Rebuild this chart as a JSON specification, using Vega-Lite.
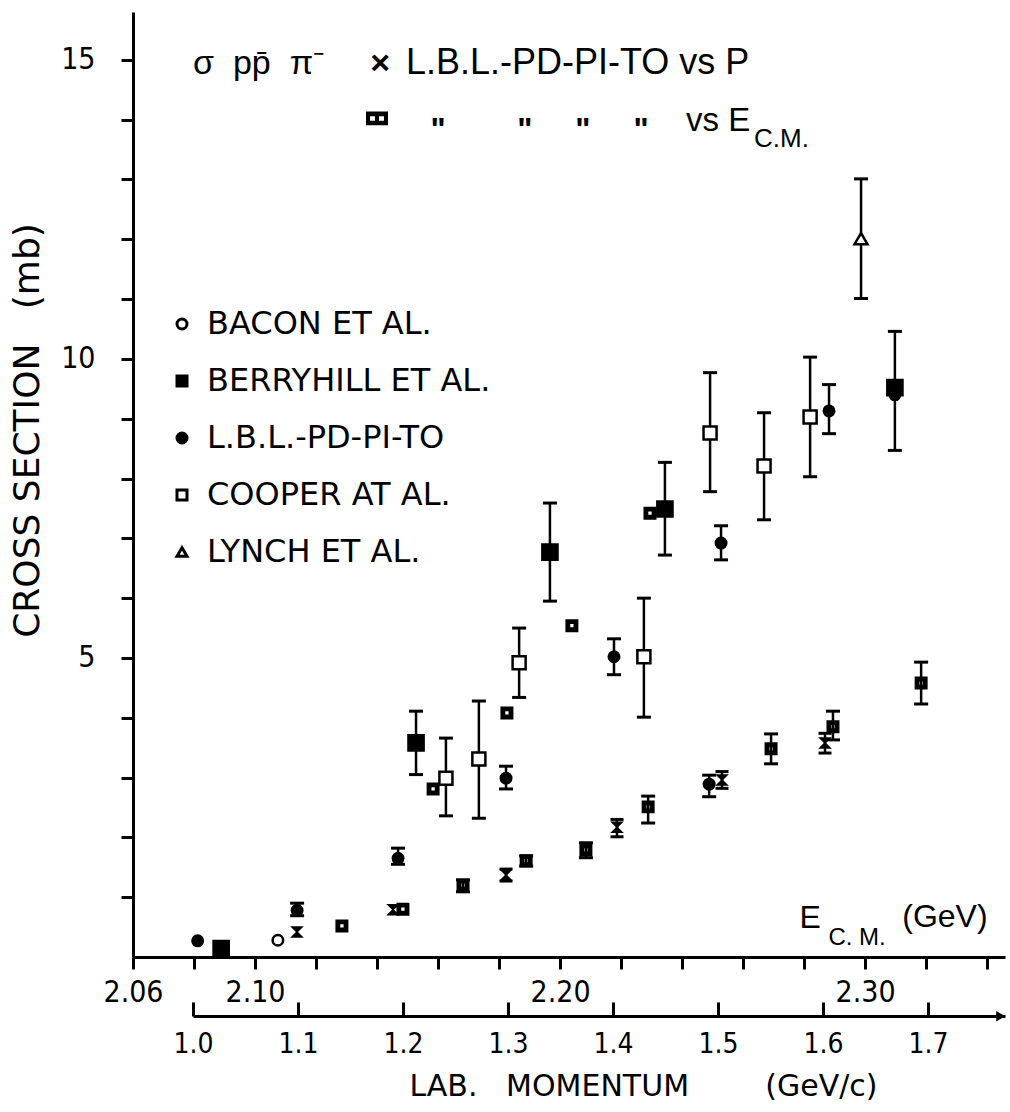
{
  "$schema": "https://vega.github.io/schema/vega-lite/v6.json",
  "width": 872,
  "height": 945,
  "autosize": {"type": "none"},
  "padding": {"left": 133, "top": 12, "right": 5, "bottom": 155},
  "background": "white",
  "config": {
    "view": {"stroke": null},
    "axis": {"grid": false, "domainColor": "black", "tickColor": "black", "labelColor": "black", "titleColor": "black", "domainWidth": 3, "tickWidth": 3},
    "text": {"color": "black"},
    "legend": {"orient": "none", "legendX": 33, "legendY": 296, "title": null, "padding": 0,
      "labelFont": "DejaVu Sans", "labelFontSize": 32, "labelColor": "black", "labelOffset": 9, "labelLimit": 600,
      "symbolSize": 100, "symbolStrokeWidth": 3, "rowPadding": 25}
  },
  "datasets": {
    "pts": [
      {"series": "BACON ET AL.", "E": 2.1075, "s": 0.28},
      {"series": "BERRYHILL ET AL.", "E": 2.0889, "s": 0.14},
      {"series": "BERRYHILL ET AL.", "E": 2.1528, "s": 3.58, "lo": 3.05, "hi": 4.11},
      {"series": "BERRYHILL ET AL.", "E": 2.1967, "s": 6.77, "lo": 5.95, "hi": 7.59},
      {"series": "BERRYHILL ET AL.", "E": 2.2344, "s": 7.49, "lo": 6.72, "hi": 8.27},
      {"series": "BERRYHILL ET AL.", "E": 2.3098, "s": 9.52, "lo": 8.47, "hi": 10.46},
      {"series": "L.B.L.-PD-PI-TO", "E": 2.0812, "s": 0.27},
      {"series": "L.B.L.-PD-PI-TO", "E": 2.1138, "s": 0.78, "lo": 0.69, "hi": 0.9},
      {"series": "L.B.L.-PD-PI-TO", "E": 2.1469, "s": 1.65, "lo": 1.55, "hi": 1.82},
      {"series": "L.B.L.-PD-PI-TO", "E": 2.1823, "s": 2.99, "lo": 2.81, "hi": 3.19},
      {"series": "L.B.L.-PD-PI-TO", "E": 2.2177, "s": 5.02, "lo": 4.72, "hi": 5.32},
      {"series": "L.B.L.-PD-PI-TO", "E": 2.2489, "s": 2.89, "lo": 2.68, "hi": 3.04},
      {"series": "L.B.L.-PD-PI-TO", "E": 2.2528, "s": 6.92, "lo": 6.64, "hi": 7.21},
      {"series": "L.B.L.-PD-PI-TO", "E": 2.2882, "s": 9.13, "lo": 8.75, "hi": 9.57},
      {"series": "L.B.L.-PD-PI-TO", "E": 2.3098, "s": 9.4},
      {"series": "COOPER AT AL.", "E": 2.1626, "s": 2.99, "lo": 2.36, "hi": 3.66},
      {"series": "COOPER AT AL.", "E": 2.1734, "s": 3.31, "lo": 2.32, "hi": 4.28},
      {"series": "COOPER AT AL.", "E": 2.1866, "s": 4.92, "lo": 4.34, "hi": 5.5},
      {"series": "COOPER AT AL.", "E": 2.2275, "s": 5.02, "lo": 4.01, "hi": 6.0},
      {"series": "COOPER AT AL.", "E": 2.2492, "s": 8.76, "lo": 7.78, "hi": 9.77},
      {"series": "COOPER AT AL.", "E": 2.2669, "s": 8.21, "lo": 7.31, "hi": 9.1},
      {"series": "COOPER AT AL.", "E": 2.282, "s": 9.03, "lo": 8.03, "hi": 10.03},
      {"series": "LYNCH ET AL.", "E": 2.2987, "s": 12.01, "lo": 11.01, "hi": 13.01},
      {"series": "L.B.L.-PD-PI-TO vs E C.M.", "E": 2.1285, "s": 0.52},
      {"series": "L.B.L.-PD-PI-TO vs E C.M.", "E": 2.1485, "s": 0.8},
      {"series": "L.B.L.-PD-PI-TO vs E C.M.", "E": 2.1584, "s": 2.81},
      {"series": "L.B.L.-PD-PI-TO vs E C.M.", "E": 2.1682, "s": 1.2, "lo": 1.09, "hi": 1.29},
      {"series": "L.B.L.-PD-PI-TO vs E C.M.", "E": 2.1826, "s": 4.08},
      {"series": "L.B.L.-PD-PI-TO vs E C.M.", "E": 2.1889, "s": 1.61, "lo": 1.52, "hi": 1.69},
      {"series": "L.B.L.-PD-PI-TO vs E C.M.", "E": 2.2039, "s": 5.54},
      {"series": "L.B.L.-PD-PI-TO vs E C.M.", "E": 2.2085, "s": 1.79, "lo": 1.66, "hi": 1.91},
      {"series": "L.B.L.-PD-PI-TO vs E C.M.", "E": 2.2289, "s": 2.51, "lo": 2.24, "hi": 2.69},
      {"series": "L.B.L.-PD-PI-TO vs E C.M.", "E": 2.2295, "s": 7.42},
      {"series": "L.B.L.-PD-PI-TO vs E C.M.", "E": 2.2692, "s": 3.48, "lo": 3.23, "hi": 3.73},
      {"series": "L.B.L.-PD-PI-TO vs E C.M.", "E": 2.2895, "s": 3.85, "lo": 3.63, "hi": 4.11},
      {"series": "L.B.L.-PD-PI-TO vs E C.M.", "E": 2.3184, "s": 4.58, "lo": 4.23, "hi": 4.93}
    ],
    "vsp": [
      {"series": "L.B.L.-PD-PI-TO vs P", "p": 1.099, "s": 0.42},
      {"series": "L.B.L.-PD-PI-TO vs P", "p": 1.1905, "s": 0.79},
      {"series": "L.B.L.-PD-PI-TO vs P", "p": 1.2981, "s": 1.37, "lo": 1.27, "hi": 1.47},
      {"series": "L.B.L.-PD-PI-TO vs P", "p": 1.4038, "s": 2.17, "lo": 2.01, "hi": 2.3},
      {"series": "L.B.L.-PD-PI-TO vs P", "p": 1.5038, "s": 2.96, "lo": 2.82, "hi": 3.1},
      {"series": "L.B.L.-PD-PI-TO vs P", "p": 1.6019, "s": 3.58, "lo": 3.41, "hi": 3.74}
    ]
  },
  "layer": [
    {
      "layer": [
        {
          "data": {"name": "pts"},
          "transform": [{"filter": "isValid(datum.lo)"}],
          "mark": {"type": "rule", "color": "black", "strokeWidth": 2.5},
          "encoding": {
            "x": {"field": "E", "type": "quantitative",
              "scale": {"domain": [2.06, 2.3459], "nice": false, "zero": false},
              "axis": {"values": [2.06, 2.08, 2.1, 2.12, 2.14, 2.16, 2.18, 2.2, 2.22, 2.24, 2.26, 2.28, 2.3, 2.32, 2.34],
                "labelExpr": "(datum.value == 2.06 || datum.value == 2.1 || datum.value == 2.2 || datum.value == 2.3) ? format(datum.value, '.2f') : ''",
                "tickSize": 12, "labelPadding": 8, "labelFlush": false,
                "labelFont": "Liberation Sans Narrow, DejaVu Sans Condensed, Liberation Sans", "labelFontSize": 30,
                "title": null}},
            "y": {"field": "lo", "type": "quantitative", "title": "CROSS\u00a0SECTION\u00a0\u00a0\u00a0(mb)",
              "scale": {"domain": [0, 15.8], "nice": false, "zero": false},
              "axis": {"values": [1, 2, 3, 4, 5, 6, 7, 8, 9, 10, 11, 12, 13, 14, 15],
                "labelExpr": "datum.value % 5 == 0 ? datum.value : ''",
                "tickSize": 12, "labelPadding": 26,
                "labelFont": "Liberation Sans Narrow, DejaVu Sans Condensed, Liberation Sans", "labelFontSize": 30,
                "titleFont": "DejaVu Sans", "titleFontSize": 36, "titleFontWeight": "normal",
                "titleAngle": 270, "titleX": -106, "titleY": 418, "titleAlign": "center", "titleBaseline": "middle"}},
            "y2": {"field": "hi"}
          }
        },
        {
          "data": {"name": "pts"},
          "transform": [{"filter": "isValid(datum.lo)"}],
          "mark": {"type": "tick", "orient": "horizontal", "color": "black", "size": 14, "thickness": 3, "opacity": 1},
          "encoding": {
            "x": {"field": "E", "type": "quantitative"},
            "y": {"field": "lo", "type": "quantitative", "title": "CROSS\u00a0SECTION\u00a0\u00a0\u00a0(mb)"}
          }
        },
        {
          "data": {"name": "pts"},
          "transform": [{"filter": "isValid(datum.hi)"}],
          "mark": {"type": "tick", "orient": "horizontal", "color": "black", "size": 14, "thickness": 3, "opacity": 1},
          "encoding": {
            "x": {"field": "E", "type": "quantitative"},
            "y": {"field": "hi", "type": "quantitative", "title": "CROSS\u00a0SECTION\u00a0\u00a0\u00a0(mb)"}
          }
        },
        {
          "data": {"name": "pts"},
          "transform": [{"filter": "datum.series != 'BERRYHILL ET AL.' && datum.series != 'COOPER AT AL.' && datum.series != 'LYNCH ET AL.'"}],
          "mark": {"type": "point", "filled": true, "strokeWidth": 2.5, "opacity": 1, "size": 110},
          "encoding": {
            "x": {"field": "E", "type": "quantitative"},
            "y": {"field": "s", "type": "quantitative", "title": "CROSS\u00a0SECTION\u00a0\u00a0\u00a0(mb)"},
            "shape": {"field": "series", "type": "nominal",
              "scale": {"domain": ["BACON ET AL.", "BERRYHILL ET AL.", "L.B.L.-PD-PI-TO", "COOPER AT AL.", "LYNCH ET AL.", "L.B.L.-PD-PI-TO vs E C.M."],
                "range": ["circle", "square", "circle", "square", "triangle-up", "M-1,-1H1V1H-1Z M-0.55,-0.55V0.55H0.55V-0.55Z"]},
              "legend": {"values": ["BACON ET AL.", "BERRYHILL ET AL.", "L.B.L.-PD-PI-TO", "COOPER AT AL.", "LYNCH ET AL."]}},
            "fill": {"field": "series", "type": "nominal",
              "scale": {"domain": ["BACON ET AL.", "BERRYHILL ET AL.", "L.B.L.-PD-PI-TO", "COOPER AT AL.", "LYNCH ET AL.", "L.B.L.-PD-PI-TO vs E C.M."],
                "range": ["white", "black", "black", "white", "white", "black"]},
              "legend": {"values": ["BACON ET AL.", "BERRYHILL ET AL.", "L.B.L.-PD-PI-TO", "COOPER AT AL.", "LYNCH ET AL."]}},
            "stroke": {"field": "series", "type": "nominal",
              "scale": {"domain": ["BACON ET AL.", "BERRYHILL ET AL.", "L.B.L.-PD-PI-TO", "COOPER AT AL.", "LYNCH ET AL.", "L.B.L.-PD-PI-TO vs E C.M."],
                "range": ["black", "black", "black", "black", "black", "black"]},
              "legend": {"values": ["BACON ET AL.", "BERRYHILL ET AL.", "L.B.L.-PD-PI-TO", "COOPER AT AL.", "LYNCH ET AL."]}}
          }
        },
        {
          "data": {"name": "pts"},
          "transform": [{"filter": "datum.series == 'COOPER AT AL.' || datum.series == 'LYNCH ET AL.'"}],
          "mark": {"type": "point", "filled": true, "strokeWidth": 2.5, "opacity": 1, "size": 170},
          "encoding": {
            "x": {"field": "E", "type": "quantitative"},
            "y": {"field": "s", "type": "quantitative", "title": "CROSS\u00a0SECTION\u00a0\u00a0\u00a0(mb)"},
            "shape": {"field": "series", "type": "nominal"},
            "fill": {"field": "series", "type": "nominal"},
            "stroke": {"field": "series", "type": "nominal"}
          }
        },
        {
          "data": {"name": "pts"},
          "transform": [{"filter": "datum.series == 'BERRYHILL ET AL.'"}],
          "mark": {"type": "point", "filled": true, "strokeWidth": 2.5, "opacity": 1, "size": 230},
          "encoding": {
            "x": {"field": "E", "type": "quantitative"},
            "y": {"field": "s", "type": "quantitative", "title": "CROSS\u00a0SECTION\u00a0\u00a0\u00a0(mb)"},
            "shape": {"field": "series", "type": "nominal"},
            "fill": {"field": "series", "type": "nominal"},
            "stroke": {"field": "series", "type": "nominal"}
          }
        },
        {
          "data": {"values": [{}]},
          "mark": {"type": "text", "align": "left", "baseline": "alphabetic", "font": "Liberation Sans", "fontSize": 34},
          "encoding": {"x": {"datum": 2.0797, "type": "quantitative"}, "y": {"datum": 14.77, "type": "quantitative"}, "text": {"value": "σ\u00a0\u00a0pp̄\u00a0\u00a0π⁻"}}
        },
        {
          "data": {"values": [{}]},
          "mark": {"type": "text", "align": "center", "baseline": "alphabetic", "font": "Liberation Sans", "fontSize": 34, "fontWeight": "bold"},
          "encoding": {"x": {"datum": 2.141, "type": "quantitative"}, "y": {"datum": 14.77, "type": "quantitative"}, "text": {"value": "×"}}
        },
        {
          "data": {"values": [{}]},
          "mark": {"type": "text", "align": "left", "baseline": "alphabetic", "font": "Liberation Sans", "fontSize": 36},
          "encoding": {"x": {"datum": 2.1495, "type": "quantitative"}, "y": {"datum": 14.77, "type": "quantitative"}, "text": {"value": "L.B.L.-PD-PI-TO vs P"}}
        },
        {
          "data": {"values": [{}]},
          "mark": {"type": "point", "filled": true, "fill": "black", "stroke": "black", "strokeWidth": 1.5, "opacity": 1, "size": 420, "shape": "M-1,-0.6H1V0.6H-1Z M-0.75,-0.3V0.3H-0.12V-0.3Z M0.12,-0.3V0.3H0.75V-0.3Z"},
          "encoding": {"x": {"datum": 2.14, "type": "quantitative"}, "y": {"datum": 14.02, "type": "quantitative"}}
        },
        {
          "data": {"values": [{}]},
          "mark": {"type": "text", "align": "center", "baseline": "alphabetic", "font": "Liberation Sans", "fontSize": 32, "fontWeight": "bold"},
          "encoding": {"x": {"datum": 2.16, "type": "quantitative"}, "y": {"datum": 13.66, "type": "quantitative"}, "text": {"value": "\""}}
        },
        {
          "data": {"values": [{}]},
          "mark": {"type": "text", "align": "center", "baseline": "alphabetic", "font": "Liberation Sans", "fontSize": 32, "fontWeight": "bold"},
          "encoding": {"x": {"datum": 2.1885, "type": "quantitative"}, "y": {"datum": 13.66, "type": "quantitative"}, "text": {"value": "\""}}
        },
        {
          "data": {"values": [{}]},
          "mark": {"type": "text", "align": "center", "baseline": "alphabetic", "font": "Liberation Sans", "fontSize": 32, "fontWeight": "bold"},
          "encoding": {"x": {"datum": 2.2075, "type": "quantitative"}, "y": {"datum": 13.66, "type": "quantitative"}, "text": {"value": "\""}}
        },
        {
          "data": {"values": [{}]},
          "mark": {"type": "text", "align": "center", "baseline": "alphabetic", "font": "Liberation Sans", "fontSize": 32, "fontWeight": "bold"},
          "encoding": {"x": {"datum": 2.2266, "type": "quantitative"}, "y": {"datum": 13.66, "type": "quantitative"}, "text": {"value": "\""}}
        },
        {
          "data": {"values": [{}]},
          "mark": {"type": "text", "align": "left", "baseline": "alphabetic", "font": "Liberation Sans", "fontSize": 33},
          "encoding": {"x": {"datum": 2.2413, "type": "quantitative"}, "y": {"datum": 13.81, "type": "quantitative"}, "text": {"value": "vs E"}}
        },
        {
          "data": {"values": [{}]},
          "mark": {"type": "text", "align": "left", "baseline": "alphabetic", "font": "Liberation Sans", "fontSize": 26},
          "encoding": {"x": {"datum": 2.2636, "type": "quantitative"}, "y": {"datum": 13.54, "type": "quantitative"}, "text": {"value": "C.M."}}
        },
        {
          "data": {"values": [{}]},
          "mark": {"type": "text", "align": "center", "baseline": "alphabetic", "font": "Liberation Sans", "fontSize": 32},
          "encoding": {"x": {"datum": 2.282, "type": "quantitative"}, "y": {"datum": 0.485, "type": "quantitative"}, "text": {"value": "E"}}
        },
        {
          "data": {"values": [{}]},
          "mark": {"type": "text", "align": "center", "baseline": "alphabetic", "font": "Liberation Sans", "fontSize": 24},
          "encoding": {"x": {"datum": 2.2974, "type": "quantitative"}, "y": {"datum": 0.2, "type": "quantitative"}, "text": {"value": "C. M."}}
        },
        {
          "data": {"values": [{}]},
          "mark": {"type": "text", "align": "center", "baseline": "alphabetic", "font": "Liberation Sans", "fontSize": 32},
          "encoding": {"x": {"datum": 2.3262, "type": "quantitative"}, "y": {"datum": 0.5, "type": "quantitative"}, "text": {"value": "(GeV)"}}
        },
        {
          "data": {"values": [{}]},
          "mark": {"type": "point", "filled": true, "fill": "black", "opacity": 1, "size": 110, "shape": "triangle-right"},
          "encoding": {"x": {"datum": 2.3445, "type": "quantitative"}, "y": {"datum": -0.99, "type": "quantitative"}}
        }
      ]
    },
    {
      "layer": [
        {
          "data": {"name": "vsp"},
          "transform": [{"filter": "isValid(datum.lo)"}],
          "mark": {"type": "rule", "color": "black", "strokeWidth": 2.5},
          "encoding": {
            "x": {"field": "p", "type": "quantitative",
              "scale": {"domain": [1.0, 1.7733], "range": [60, 872], "nice": false, "zero": false},
              "axis": {"orient": "bottom", "offset": 59, "values": [1.0, 1.1, 1.2, 1.3, 1.4, 1.5, 1.6, 1.7], "format": ".1f",
                "tickSize": -14, "labelPadding": 28, "labelFlush": false,
                "labelFont": "Liberation Sans Narrow, DejaVu Sans Condensed, Liberation Sans", "labelFontSize": 28,
                "title": "LAB.\u00a0\u00a0\u00a0MOMENTUM\u00a0\u00a0\u00a0\u00a0\u00a0\u00a0\u00a0\u00a0(GeV/c)", "titleFont": "DejaVu Sans", "titleFontSize": 30, "titleFontWeight": "normal",
                "titleX": 510, "titleY": 79, "titleBaseline": "alphabetic", "titleAlign": "center"}},
            "y": {"field": "lo", "type": "quantitative", "title": "CROSS\u00a0SECTION\u00a0\u00a0\u00a0(mb)"},
            "y2": {"field": "hi"}
          }
        },
        {
          "data": {"name": "vsp"},
          "transform": [{"filter": "isValid(datum.lo)"}],
          "mark": {"type": "tick", "orient": "horizontal", "color": "black", "size": 13, "thickness": 3, "opacity": 1},
          "encoding": {
            "x": {"field": "p", "type": "quantitative"},
            "y": {"field": "lo", "type": "quantitative", "title": "CROSS\u00a0SECTION\u00a0\u00a0\u00a0(mb)"}
          }
        },
        {
          "data": {"name": "vsp"},
          "transform": [{"filter": "isValid(datum.hi)"}],
          "mark": {"type": "tick", "orient": "horizontal", "color": "black", "size": 13, "thickness": 3, "opacity": 1},
          "encoding": {
            "x": {"field": "p", "type": "quantitative"},
            "y": {"field": "hi", "type": "quantitative", "title": "CROSS\u00a0SECTION\u00a0\u00a0\u00a0(mb)"}
          }
        },
        {
          "data": {"name": "vsp"},
          "mark": {"type": "point", "filled": true, "fill": "black", "stroke": "black", "strokeWidth": 1.5, "opacity": 1, "size": 100, "shape": "M-1,-1H1L-1,1H1Z"},
          "encoding": {
            "x": {"field": "p", "type": "quantitative"},
            "y": {"field": "s", "type": "quantitative", "title": "CROSS\u00a0SECTION\u00a0\u00a0\u00a0(mb)"}
          }
        }
      ]
    }
  ],
  "resolve": {"scale": {"x": "independent"}}
}
